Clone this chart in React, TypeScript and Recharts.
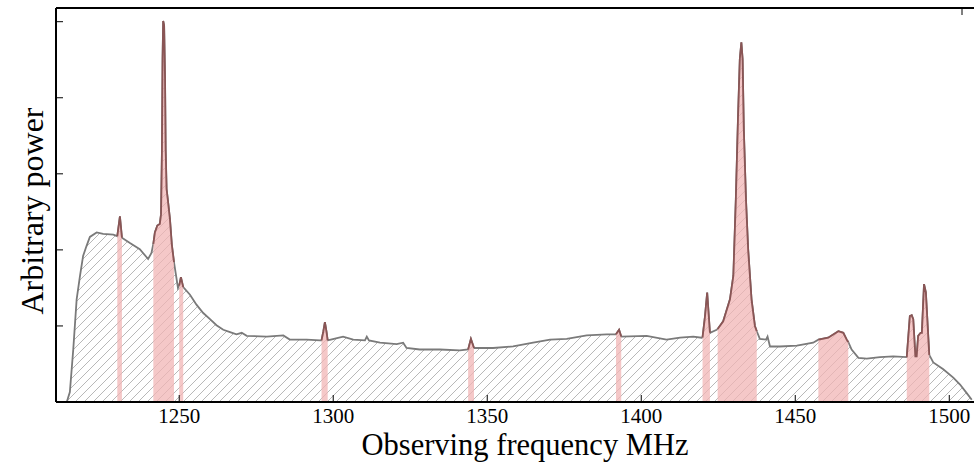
import React from 'react'
import {
    ComposedChart,
    XAxis,
    YAxis,
    Area,
} from 'recharts';

// observing frequency (MHz) and arbitrary power
const freqMHz: number[] = [
    1213.5, 1214.5, 1215.6, 1216.7, 1217.8, 1218.8, 1219.9, 1221.0, 1223.2, 1225.3,
    1228.6, 1229.9, 1230.75, 1231.4, 1234.0, 1237.2, 1239.9, 1241.0, 1241.6, 1242.1,
    1242.9, 1243.7, 1244.1, 1244.4, 1244.6, 1244.8, 1245.1, 1245.4, 1245.6, 1245.9,
    1246.3, 1247.0, 1247.6, 1248.3, 1249.6, 1250.0, 1250.55, 1251.3, 1253.5, 1255.6,
    1257.8, 1260.0, 1262.1, 1264.3, 1266.5, 1268.6, 1270.3, 1271.9, 1278.4, 1283.8,
    1285.9, 1291.4, 1295.7, 1296.2, 1296.8, 1297.3, 1297.8, 1298.2, 1303.2, 1306.5,
    1310.3, 1310.9, 1311.6, 1315.2, 1320.6, 1322.7, 1323.8, 1328.1, 1334.6, 1341.1,
    1343.8, 1344.7, 1345.7, 1351.9, 1358.4, 1364.9, 1370.4, 1375.8, 1382.3, 1388.8,
    1391.8, 1392.8, 1393.5, 1401.75, 1408.2, 1412.6, 1416.9, 1419.6, 1419.9, 1420.7,
    1421.4, 1422.3, 1424.5, 1424.8, 1426.6, 1428.8, 1429.9, 1430.7, 1431.4, 1432.0,
    1432.5, 1432.9, 1433.3, 1434.0, 1434.7, 1435.8, 1436.9, 1437.5, 1438.5, 1440.5,
    1441.0, 1441.8, 1445.0, 1450.5, 1455.8, 1457.5, 1460.7, 1464.0, 1465.6, 1466.7,
    1467.2, 1468.3, 1470.5, 1473.2, 1477.5, 1481.8, 1486.2, 1487.2, 1487.8, 1488.3,
    1489.0, 1489.4, 1489.9, 1490.7, 1491.1, 1491.8, 1492.4, 1493.5, 1494.8, 1498.05,
    1501.3, 1503.5, 1505.6, 1507.3,
];
const power: number[] = [
    0, 0.13, 0.69, 1.35, 1.66, 1.92, 2.05, 2.17, 2.23, 2.21,
    2.2, 2.18, 2.44, 2.16, 2.09, 2.01, 1.88, 1.96, 2.08, 2.23,
    2.32, 2.34, 2.47, 3.32, 4.51, 5.01, 4.95, 4.24, 3.32, 2.8,
    2.66, 2.4, 2.07, 1.84, 1.5, 1.53, 1.64, 1.51, 1.41, 1.28,
    1.17, 1.09, 1.01, 0.95, 0.92, 0.89, 0.91, 0.87, 0.86, 0.875,
    0.82, 0.82, 0.81, 0.81, 0.93, 1.05, 0.93, 0.81, 0.86, 0.82,
    0.81, 0.86, 0.81, 0.78, 0.76, 0.78, 0.71, 0.69, 0.69, 0.68,
    0.69, 0.83, 0.71, 0.71, 0.73, 0.78, 0.82, 0.83, 0.875, 0.89,
    0.89, 0.95, 0.86, 0.87, 0.82, 0.845, 0.86, 0.845, 0.85, 1.13,
    1.44, 0.91, 0.95, 0.96, 1.06, 1.35, 1.66, 2.66, 3.72, 4.51,
    4.73, 4.51, 3.58, 2.66, 2.01, 1.35, 1.0, 0.93, 0.83, 0.82,
    0.86, 0.73, 0.73, 0.74, 0.78, 0.82, 0.845, 0.93, 0.91, 0.82,
    0.79, 0.69, 0.58, 0.57, 0.59, 0.6, 0.59, 1.13, 1.14, 1.09,
    0.6, 0.6, 0.87, 0.91, 0.91, 1.55, 1.44, 0.62, 0.52, 0.43,
    0.32, 0.23, 0.12, 0.03,
];

// flagged (RFI) frequency ranges
const flagStart: number[] = [1229.9, 1241.6, 1250.0, 1296.2, 1343.8, 1391.8, 1419.9, 1424.8, 1457.5, 1486.2, 1489.4];
const flagEnd: number[] = [1231.4, 1248.3, 1251.3, 1298.2, 1345.7, 1393.5, 1422.3, 1437.5, 1467.2, 1489.0, 1493.5];

const xTicks: number[] = [1250, 1300, 1350, 1400, 1450, 1500];
const yTicks: number[] = [0, 1, 2, 3, 4, 5];

const isFlagged = (f: number) =>
    flagStart.some((s, i) => f >= s - 1e-6 && f <= flagEnd[i] + 1e-6);

const data = freqMHz.map((f, i) => ({
    freq: f,
    power: power[i],
    flagged: isFlagged(f) ? power[i] : null,
}));

const serif = '"Liberation Serif", "Times New Roman", serif';
const axisLine = { stroke: '#000', strokeWidth: 2 };
const TICK = 7;

// ticks point into the plot, like matplotlib's "in" direction
const inwardTick = (dx: number, dy: number, label: boolean) => (props: any) => {
    const { x, y, payload } = props;
    return (
        <g>
            <line x1={x} y1={y} x2={x + dx * TICK} y2={y + dy * TICK} stroke="#000" strokeWidth={1} />
            {label && (
                <text x={x} y={y + 21} textAnchor="middle" fontFamily={serif} fontSize={21} fill="#000">
                    {payload.value}
                </text>
            )}
        </g>
    );
};

const App = () => {
    return (
        <div style={{ position: 'absolute', left: 0, top: 0, width: 974, height: 464, overflow: 'hidden', background: '#fff' }}>
            <ComposedChart
                width={978}
                height={464}
                data={data}
                margin={{ top: 7, right: 0, bottom: 8, left: 55 }}
            >
                <defs>
                    <pattern id="hatch" patternUnits="userSpaceOnUse" width="9" height="9">
                        <rect width="9" height="9" fill="#fff" />
                        <path d="M-1,1 l2,-2 M0,9 l9,-9 M8,10 l2,-2" stroke="#b0b0b0" strokeWidth="0.9" />
                    </pattern>
                </defs>
                <Area
                    type="linear"
                    dataKey="power"
                    stroke="#7a7a7a"
                    strokeWidth={1.8}
                    fill="url(#hatch)"
                    fillOpacity={1}
                    isAnimationActive={false}
                />
                <Area
                    type="linear"
                    dataKey="flagged"
                    connectNulls={false}
                    stroke="#8a5555"
                    strokeWidth={1.8}
                    fill="#f2b5b5"
                    fillOpacity={0.75}
                    isAnimationActive={false}
                />
                <XAxis
                    dataKey="freq"
                    type="number"
                    domain={[1210, 1509]}
                    ticks={xTicks}
                    height={54}
                    axisLine={axisLine}
                    tickLine={false}
                    tickSize={0}
                    tickMargin={0}
                    tick={inwardTick(0, -1, true)}
                />
                <XAxis
                    xAxisId="top"
                    orientation="top"
                    type="number"
                    domain={[1210, 1509]}
                    ticks={xTicks}
                    height={1}
                    axisLine={axisLine}
                    tickLine={false}
                    tickSize={0}
                    tickMargin={0}
                    tick={inwardTick(0, 1, false)}
                />
                <YAxis
                    type="number"
                    domain={[0, 5.18]}
                    ticks={yTicks}
                    width={1}
                    axisLine={axisLine}
                    tickLine={false}
                    tickSize={0}
                    tickMargin={0}
                    tick={inwardTick(1, 0, false)}
                />
                <YAxis
                    yAxisId="right"
                    orientation="right"
                    type="number"
                    domain={[0, 5.18]}
                    ticks={yTicks}
                    width={1}
                    axisLine={axisLine}
                    tickLine={false}
                    tickSize={0}
                    tickMargin={0}
                    tick={inwardTick(-1, 0, false)}
                />
                <text
                    x={525}
                    y={455}
                    textAnchor="middle"
                    fontFamily={serif}
                    fontSize={30.5}
                    fill="#000"
                >
                    Observing frequency MHz
                </text>
                <text
                    x={43}
                    y={211}
                    transform="rotate(-90 43 211)"
                    textAnchor="middle"
                    fontFamily={serif}
                    fontSize={32}
                    fill="#000"
                >
                    Arbitrary power
                </text>
            </ComposedChart>
        </div>
    )
}

export default App
